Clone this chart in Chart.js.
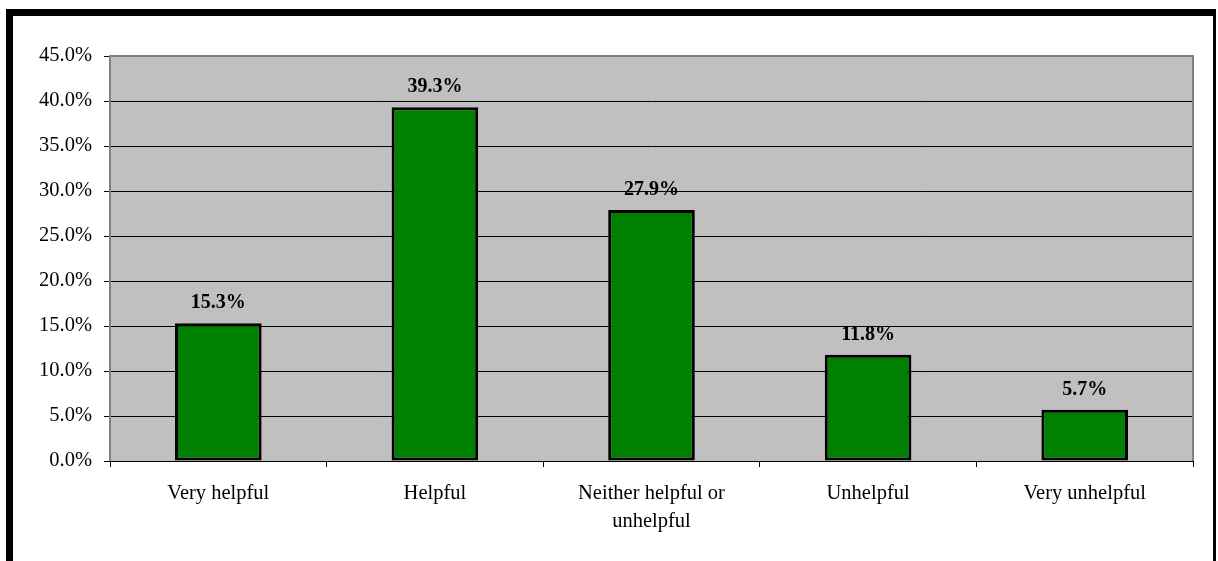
<!DOCTYPE html>
<html>
<head>
<meta charset="utf-8">
<script src="https://cdn.jsdelivr.net/npm/chart.js@4/dist/chart.umd.min.js"></script>
<style>
  html, body { margin: 0; padding: 0; background: #fff; overflow: hidden; }
  #frame {
    position: absolute; left: 6px; top: 9px; width: 1210px; height: 620px;
    box-sizing: border-box;
    border-left: 7px solid #000; border-top: 7px solid #000; border-right: 3px solid #000;
  }
  #chart { position: absolute; left: 0; top: 0; }
</style>
</head>
<body>
<div id="frame"></div>
<canvas id="chart" width="1218" height="561"></canvas>
<script>
const categories = [
  "Very helpful",
  "Helpful",
  ["Neither helpful or", "unhelpful"],
  "Unhelpful",
  "Very unhelpful",
];
const shares = [15.3, 39.3, 27.9, 11.8, 5.7];
const yMin = 0;
const yMax = 45;
const yStep = 5;

const serif = '"Liberation Serif", "Times New Roman", serif';

// grey plot background + grey frame (top, left, right)
const plotArea = {
  id: "plotArea",
  beforeDraw(chart) {
    const { ctx, chartArea: a } = chart;
    ctx.save();
    ctx.fillStyle = "#c0c0c0";
    ctx.fillRect(a.left, a.top, a.right - a.left, a.bottom - a.top);
    ctx.restore();
  },
  beforeDatasetsDraw(chart) {
    const { ctx, chartArea: a } = chart;
    ctx.save();
    ctx.strokeStyle = "#808080";
    ctx.lineWidth = 2;
    ctx.beginPath();
    ctx.moveTo(a.left, a.bottom);
    ctx.lineTo(a.left, a.top);
    ctx.lineTo(a.right, a.top);
    ctx.lineTo(a.right, a.bottom);
    ctx.stroke();
    ctx.restore();
  },
};

// bold value labels above the bars
const valueLabels = {
  id: "valueLabels",
  afterDatasetsDraw(chart) {
    const { ctx } = chart;
    const meta = chart.getDatasetMeta(0);
    ctx.save();
    ctx.font = "bold 20px " + serif;
    ctx.fillStyle = "#000";
    ctx.textAlign = "center";
    ctx.textBaseline = "alphabetic";
    meta.data.forEach((bar, i) => {
      ctx.fillText(shares[i].toFixed(1) + "%", bar.x, bar.y - 15);
    });
    ctx.restore();
  },
};

new Chart(document.getElementById("chart"), {
  type: "bar",
  data: {
    labels: categories,
    datasets: [
      {
        data: shares,
        backgroundColor: "#008000",
        borderColor: "#000",
        borderWidth: 3,
        borderSkipped: false,
        categoryPercentage: 1,
        barPercentage: 0.4,
      },
    ],
  },
  options: {
    responsive: false,
    animation: false,
    devicePixelRatio: 1,
    layout: { padding: { left: 0, top: 56, right: 25, bottom: 0 } },
    plugins: { legend: { display: false }, tooltip: { enabled: false } },
    scales: {
      x: {
        afterFit: (s) => { s.height = 100; },
        grid: {
          offset: true,
          drawOnChartArea: false,
          color: "#000",
          tickLength: 6,
        },
        border: { color: "#000", width: 1 },
        ticks: {
          color: "#000",
          padding: 13,
          maxRotation: 0,
          autoSkip: false,
          font: { family: serif, size: 20.5, lineHeight: 1.35 },
        },
      },
      y: {
        min: yMin,
        max: yMax,
        afterFit: (s) => { s.width = 110; },
        grid: { color: "#000", tickColor: "#000", tickLength: 6, lineWidth: 1 },
        border: { display: false },
        ticks: {
          stepSize: yStep,
          color: "#000",
          padding: 12,
          font: { family: serif, size: 20.5 },
          callback: (v) => v.toFixed(1) + "%",
        },
      },
    },
  },
  plugins: [plotArea, valueLabels],
});
</script>
</body>
</html>
